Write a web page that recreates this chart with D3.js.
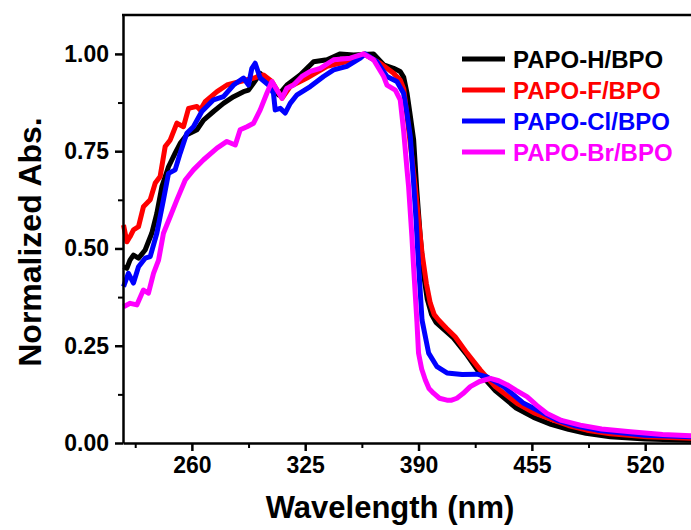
<!DOCTYPE html>
<html>
<head>
<meta charset="utf-8">
<script src="https://cdn.jsdelivr.net/npm/d3@7"></script>
<style>
  body { margin: 0; background: #fff; }
  text { font-family: "Liberation Sans", Arial, sans-serif; font-weight: bold; }
</style>
</head>
<body>
<div id="my_dataviz"></div>
<script>
// series names and colours
var seriesNames = ["PAPO-H/BPO", "PAPO-F/BPO", "PAPO-Cl/BPO", "PAPO-Br/BPO"];
var seriesColors = ["#000000", "#ff0000", "#0000ff", "#ff00ff"];

// tick values
var xTicks = [260, 325, 390, 455, 520];
var yTicks = [0, 0.25, 0.5, 0.75, 1.0];

// [wavelength (nm), normalized abs]
var papoH = [[220.8,.453],[222.7,.449],[224.5,.47],[226.5,.483],[229.4,.475],[233.2,.496],[237,.539],[239.9,.59],[242.8,.659],[246.6,.71],[250.4,.745],[253.3,.77],[257.1,.792],[262.9,.805],[266.7,.83],[272.4,.852],[278.1,.873],[283.9,.89],[289.6,.903],[292.5,.907],[295.4,.925],[299.2,.95],[304,.925],[309.7,.895],[314.5,.92],[322.1,.946],[329.8,.98],[337.5,.985],[345.1,1.0],[352.7,.997],[364.2,1.0],[370,.972],[375.7,.963],[379.5,.955],[381.5,.94],[383.4,.899],[385.3,.84],[387.2,.779],[389,.65],[391,.53],[393,.43],[395,.37],[397.5,.33],[400,.31],[405,.29],[410,.27],[418,.225],[425,.18],[434,.135],[446,.09],[456,.066],[466,.048],[476,.035],[486,.025],[500,.016],[520,.01],[548,.007]];

var papoF = [[220.8,.56],[222.7,.517],[224.5,.53],[226.5,.548],[229.4,.556],[232.2,.607],[236.1,.625],[239,.668],[241.8,.685],[244.7,.762],[247.6,.779],[251.4,.822],[255.2,.813],[258.1,.86],[262.9,.865],[264.8,.856],[267.6,.877],[274.4,.903],[280.1,.92],[287.7,.929],[295.4,.938],[301.1,.946],[305.9,.929],[311.7,.886],[316.4,.916],[326,.938],[337.5,.968],[348.9,.98],[358.5,1.0],[368,.976],[375.7,.95],[379.5,.933],[381.5,.91],[383.7,.83],[386,.74],[388.1,.659],[392,.488],[394.5,.41],[396.7,.36],[399,.33],[401.5,.316],[406,.295],[411,.273],[417.8,.231],[425.4,.188],[434,.145],[446.5,.102],[456,.078],[467.3,.059],[476,.045],[486.6,.033],[500,.024],[521,.016],[548,.012]];

var papoCl = [[220.8,.402],[223.6,.436],[226.5,.411],[229.4,.453],[233.2,.475],[236.1,.479],[239.9,.539],[243.7,.625],[246.6,.693],[250.4,.702],[253.3,.745],[257.1,.796],[260.9,.813],[265.7,.852],[272.4,.882],[278.1,.89],[283.9,.92],[289.6,.938],[292.5,.92],[294.4,.963],[296.3,.976],[299.2,.938],[304,.92],[306.8,.899],[307.8,.856],[310.7,.86],[313.5,.848],[316.4,.873],[320.3,.895],[327.9,.916],[335.5,.942],[341.3,.959],[348.9,.968],[356.6,.989],[359.4,1.0],[366.1,.98],[371.9,.942],[377.6,.929],[381.4,.899],[383.3,.85],[385.3,.787],[387,.68],[388.6,.573],[389.6,.488],[392,.316],[395.8,.231],[400.6,.196],[406.3,.18],[415,.176],[423.5,.177],[429.3,.17],[438.8,.145],[450.3,.102],[469.4,.059],[480,.044],[492.4,.033],[520,.02],[548,.016]];

var papoBr = [[220.8,.35],[224.6,.359],[228.5,.355],[232.2,.393],[235.1,.385],[238,.436],[240.9,.47],[243.7,.539],[247.6,.582],[251.4,.625],[256.2,.676],[260.9,.702],[266.7,.728],[274.4,.758],[280.1,.775],[284.9,.766],[287.7,.805],[291.6,.813],[295.4,.822],[299.2,.856],[303,.899],[305.9,.929],[308.8,.907],[311.7,.886],[314.5,.912],[318.3,.92],[323.1,.942],[327.9,.955],[333.6,.963],[341.3,.985],[350.8,.989],[358.5,1.0],[364.2,.985],[370,.942],[371.9,.92],[376.7,.907],[379.5,.882],[381.5,.8],[383.4,.702],[384.3,.659],[386.2,.53],[387.2,.45],[389.1,.31],[390,.231],[391.8,.19],[393.9,.162],[396,.14],[398.6,.128],[402,.115],[406.3,.11],[409,.11],[412,.115],[415.5,.127],[419.7,.145],[425,.158],[431.2,.166],[436,.16],[440.7,.15],[446,.135],[452.2,.119],[458,.096],[463.7,.076],[472,.058],[482.8,.046],[495,.036],[511.5,.029],[530,.022],[548,.018]];

var allSeries = [papoH, papoF, papoCl, papoBr];

// size of the page
var W = 691, H = 530;

var svg = d3.select("#my_dataviz")
  .append("svg")
  .attr("width", W)
  .attr("height", H);

// plot frame: left 123, top 15, bottom 443 (right edge falls outside the picture)
var x = d3.scaleLinear()
  .domain([220.5, 550])
  .range([123, 697.5]);
var y = d3.scaleLinear()
  .domain([0, 1.1])
  .range([443, 15]);

// curves
var line = d3.line()
  .x(function(d) { return x(d[0]); })
  .y(function(d) { return y(d[1]); });

svg.selectAll("path.curve")
  .data(allSeries)
  .enter()
  .append("path")
  .attr("class", "curve")
  .attr("d", line)
  .attr("fill", "none")
  .attr("stroke", function(d, i) { return seriesColors[i]; })
  .attr("stroke-width", 5)
  .attr("stroke-linejoin", "round");

// minor ticks (half way between the majors)
var xMinor = xTicks.map(function(t) { return t - 32.5; }).concat([xTicks[xTicks.length - 1] + 32.5]);
var yMinor = yTicks.slice(0, -1).map(function(t) { return t + 0.125; });

svg.append("g")
  .attr("transform", "translate(0,443)")
  .call(d3.axisBottom(x).tickValues(xMinor).tickSize(5).tickFormat(""))
  .call(function(g) { g.select(".domain").remove(); })
  .selectAll("line").attr("stroke-width", 2);

svg.append("g")
  .attr("transform", "translate(123,0)")
  .call(d3.axisLeft(y).tickValues(yMinor).tickSize(5).tickFormat(""))
  .call(function(g) { g.select(".domain").remove(); })
  .selectAll("line").attr("stroke-width", 2);

// X axis
var xAxis = svg.append("g")
  .attr("transform", "translate(0,443)")
  .call(d3.axisBottom(x).tickValues(xTicks).tickSize(8).tickSizeOuter(0).tickPadding(6));
xAxis.select(".domain").attr("stroke-width", 2.5);
xAxis.selectAll("line").attr("stroke-width", 2.5);
xAxis.selectAll("text").attr("font-size", 23).attr("fill", "#000");

// Y axis
var yAxis = svg.append("g")
  .attr("transform", "translate(123,0)")
  .call(d3.axisLeft(y).tickValues(yTicks).tickSize(8).tickSizeOuter(0).tickPadding(6)
    .tickFormat(d3.format(".2f")));
yAxis.select(".domain").attr("stroke-width", 2.5);
yAxis.selectAll("line").attr("stroke-width", 2.5);
yAxis.selectAll("text").attr("font-size", 23).attr("fill", "#000");

// top border
svg.append("line")
  .attr("x1", 122).attr("x2", W)
  .attr("y1", 15).attr("y2", 15)
  .attr("stroke", "#000")
  .attr("stroke-width", 2.5);

// axis titles
svg.append("text")
  .attr("x", 390)
  .attr("y", 518)
  .attr("text-anchor", "middle")
  .attr("font-size", 31)
  .text("Wavelength (nm)");

svg.append("text")
  .attr("transform", "translate(41,242) rotate(-90)")
  .attr("text-anchor", "middle")
  .attr("font-size", 32)
  .text("Normalized Abs.");

// legend
var legend = svg.selectAll("g.legend")
  .data(seriesNames)
  .enter()
  .append("g")
  .attr("class", "legend")
  .attr("transform", function(d, i) { return "translate(462," + (59 + i * 31) + ")"; });

legend.append("line")
  .attr("x1", 0).attr("x2", 43)
  .attr("stroke", function(d, i) { return seriesColors[i]; })
  .attr("stroke-width", 5);

legend.append("text")
  .attr("x", 51)
  .attr("y", 8.5)
  .attr("font-size", 24)
  .attr("fill", function(d, i) { return seriesColors[i]; })
  .text(function(d) { return d; });
</script>
</body>
</html>
